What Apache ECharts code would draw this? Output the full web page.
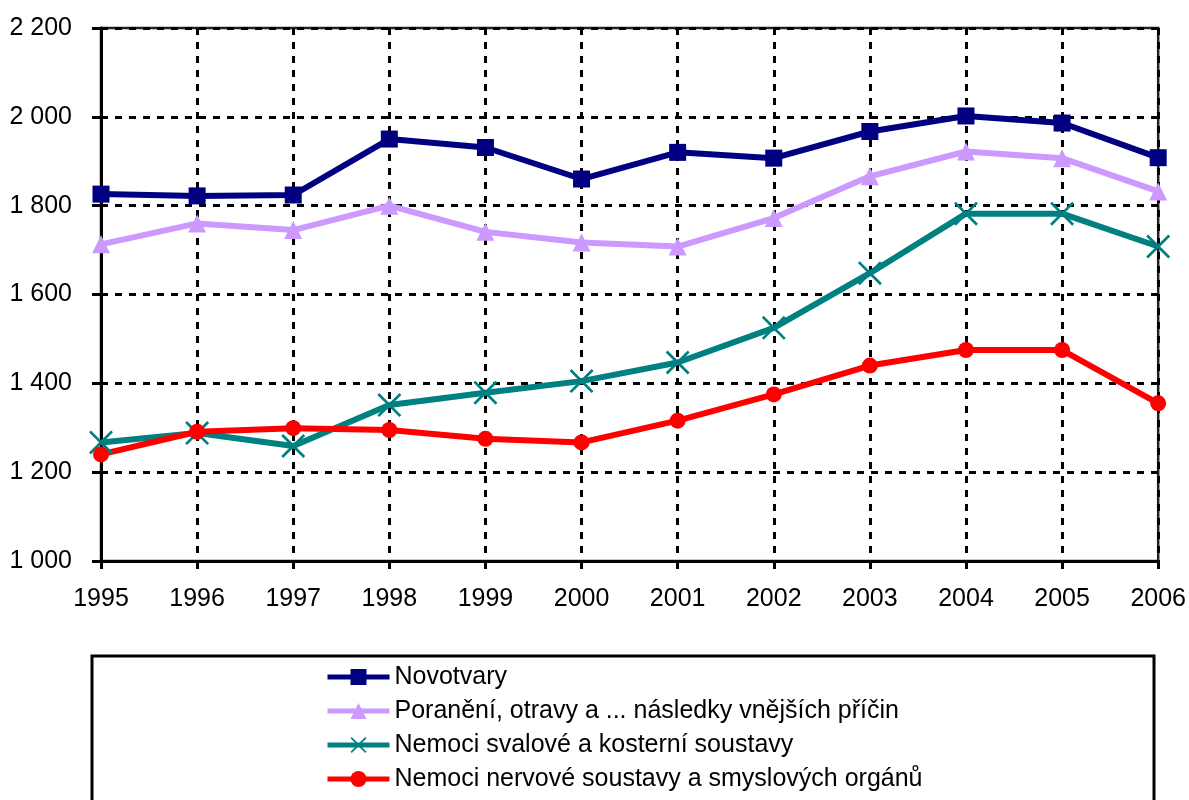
<!DOCTYPE html>
<html>
<head>
<meta charset="utf-8">
<script src="https://cdn.jsdelivr.net/npm/echarts@6/dist/echarts.min.js"></script>
<style>
  html, body { margin: 0; padding: 0; background: #fff; }
  #chart { width: 1189px; height: 800px; }
</style>
</head>
<body>
<div id="chart"></div>
<script>
const years = ['1995', '1996', '1997', '1998', '1999', '2000', '2001', '2002', '2003', '2004', '2005', '2006']

const novotvary = [1826, 1822, 1824, 1950, 1931, 1860, 1920, 1907, 1967, 2002, 1986, 1908]
const poraneni = [1713, 1760, 1745, 1800, 1741, 1717, 1708, 1772, 1866, 1922, 1907, 1832]
const svalove = [1267, 1288, 1259, 1351, 1379, 1405, 1447, 1525, 1648, 1782, 1782, 1708]
const nervove = [1240, 1291, 1299, 1295, 1275, 1267, 1316, 1375, 1440, 1475, 1475, 1355]

const names = [
  'Novotvary',
  'Poranění, otravy a ... následky vnějších příčin',
  'Nemoci svalové a kosterní soustavy',
  'Nemoci nervové soustavy a smyslových orgánů'
]

const FONT = '"Liberation Sans", Arial, sans-serif'
// křížek jako vyplněná cesta (čárový path by se nevyplnil)
const CROSS = 'path://M0,0.8L0.8,0L10,9.2L9.2,10ZM9.2,0L10,0.8L0.8,10L0,9.2Z'

function fmtThousands(v) {
  const s = String(v)
  return s.length > 3 ? s.slice(0, -3) + ' ' + s.slice(-3) : s
}

function line(name, data, color, symbol, size) {
  return {
    name,
    type: 'line',
    data,
    symbol,
    symbolSize: size,
    showSymbol: true,
    lineStyle: { width: 6, color },
    itemStyle: { color },
    emphasis: { disabled: true }
  }
}

const chart = echarts.init(document.getElementById('chart'))
chart.setOption({
  animation: false,
  backgroundColor: '#fff',
  grid: {
    left: 101, right: 29, top: 28, bottom: 239,
    show: true, borderColor: '#222', borderWidth: 2.5
  },
  xAxis: {
    type: 'category',
    data: years,
    boundaryGap: false,
    axisLine: { lineStyle: { color: '#000', width: 3 } },
    axisTick: { show: true, length: 8, alignWithLabel: true, lineStyle: { color: '#000', width: 3 } },
    axisLabel: { color: '#000', fontSize: 25, fontFamily: FONT, margin: 26, interval: 0 },
    splitLine: { show: true, interval: 0, lineStyle: { color: '#000', width: 3, type: [7, 7] } }
  },
  yAxis: {
    type: 'value',
    min: 1000,
    max: 2200,
    interval: 200,
    axisLine: { show: true, lineStyle: { color: '#000', width: 3 } },
    axisTick: { show: true, length: 9, lineStyle: { color: '#000', width: 3 } },
    axisLabel: { color: '#000', fontSize: 25, fontFamily: FONT, margin: 29, formatter: fmtThousands },
    splitLine: { show: true, lineStyle: { color: '#000', width: 3, type: [7, 7] } }
  },
  legend: {
    orient: 'vertical',
    left: 325,
    top: 660,
    height: 160,
    padding: 0,
    itemWidth: 62,
    itemHeight: 20,
    itemGap: 0,
    selectedMode: false,
    lineStyle: { width: 5 },
    textStyle: { color: '#000', fontSize: 25, fontFamily: FONT, lineHeight: 34, height: 34 },
    data: names
  },
  graphic: [{
    type: 'rect',
    shape: { x: 92, y: 656, width: 1062, height: 200 },
    style: { fill: 'none', stroke: '#000', lineWidth: 3 },
    silent: true
  }],
  series: [
    line(names[0], novotvary, '#000080', 'rect', 17),
    line(names[1], poraneni, '#CC99FF', 'triangle', 18),
    line(names[2], svalove, '#008080', CROSS, 24),
    line(names[3], nervove, '#FF0000', 'circle', 16)
  ]
})
</script>
</body>
</html>
